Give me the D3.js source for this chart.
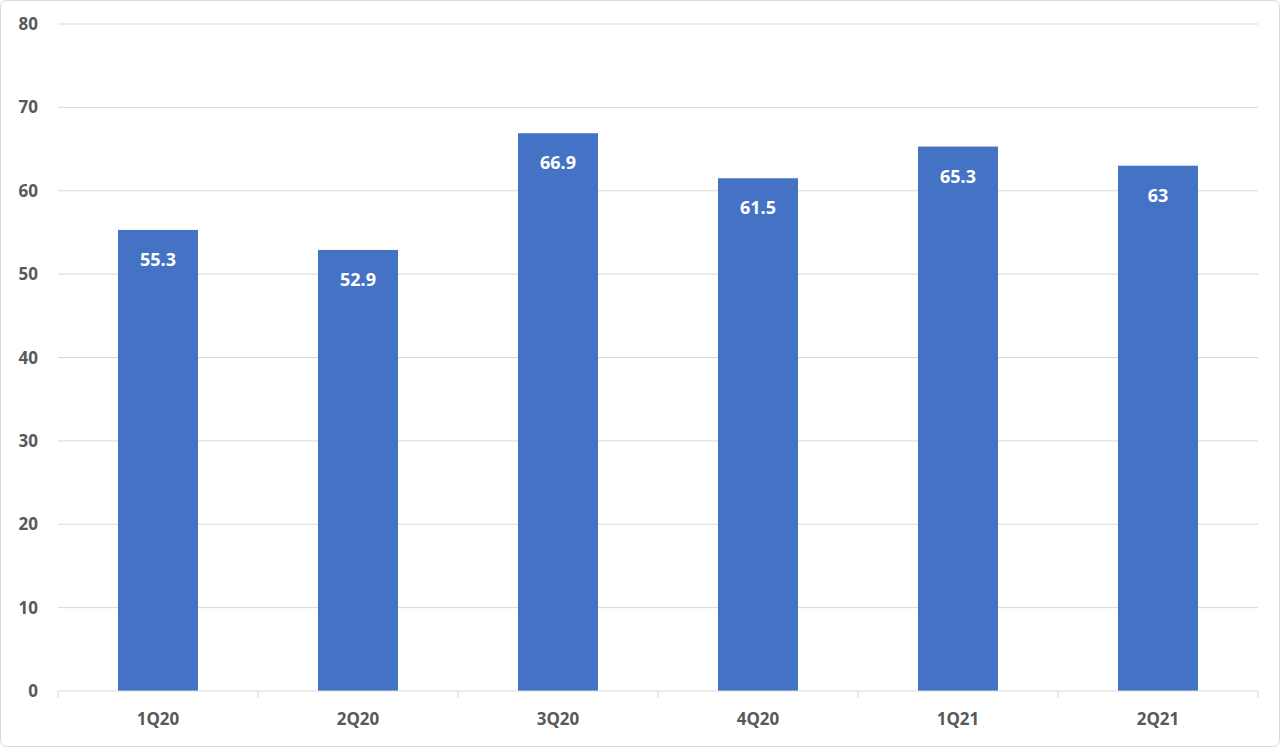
<!DOCTYPE html>
<html><head><meta charset="utf-8">
<script src="https://cdn.jsdelivr.net/npm/d3@7"></script>
<style>body{margin:0;background:#fff}svg{display:block}</style></head>
<body><svg id="c" width="1280" height="747"></svg>
<script>
const categories=["1Q20","2Q20","3Q20","4Q20","1Q21","2Q21"];
const values=[55.3,52.9,66.9,61.5,65.3,63];
const yTicks=[0,10,20,30,40,50,60,70,80];
const svg=d3.select("#c");
svg.append("rect").attr("x",0.5).attr("y",0.5).attr("width",1279).attr("height",746).attr("rx",6).attr("fill","#fff").attr("stroke","#d9d9d9");
const L=58,R=1258,T=24,B=691;
const x=d3.scaleBand().domain(categories).range([L,R]).paddingInner(0.6).paddingOuter(0.3);
const y=d3.scaleLinear().domain([0,80]).range([B,T]);
const font="'Noto Sans', 'DejaVu Sans', sans-serif";
svg.append("g").selectAll("line").data(yTicks.slice(1)).join("line")
 .attr("x1",L).attr("x2",R).attr("y1",d=>y(d)).attr("y2",d=>y(d)).attr("stroke","#d9d9d9");
svg.append("g").selectAll("text").data(yTicks).join("text")
 .attr("x",38).attr("y",d=>y(d)+6).attr("text-anchor","end").attr("fill","#595959")
 .attr("font-family",font).attr("font-weight","bold").attr("font-size",17).text(d=>d);
svg.append("g").selectAll("rect").data(values).join("rect")
 .attr("x",(d,i)=>x(categories[i])).attr("width",x.bandwidth()).attr("y",d=>y(d)).attr("height",d=>B-y(d)).attr("fill","#4472c4");
svg.append("line").attr("x1",L).attr("x2",R).attr("y1",B).attr("y2",B).attr("stroke","#d9d9d9");
const step=(R-L)/categories.length;
svg.append("g").selectAll("line").data(d3.range(categories.length+1)).join("line")
 .attr("x1",i=>L+i*step).attr("x2",i=>L+i*step).attr("y1",B).attr("y2",B+7).attr("stroke","#d9d9d9");
svg.append("g").selectAll("text").data(categories).join("text")
 .attr("x",d=>x(d)+x.bandwidth()/2).attr("y",725).attr("text-anchor","middle").attr("fill","#595959")
 .attr("font-family",font).attr("font-weight","bold").attr("font-size",17).text(d=>d);
svg.append("g").selectAll("text").data(values).join("text")
 .attr("x",(d,i)=>x(categories[i])+x.bandwidth()/2).attr("y",d=>y(d)+36).attr("text-anchor","middle").attr("fill","#fff")
 .attr("font-family",font).attr("font-weight","bold").attr("font-size",18).text(d=>d);
</script></body></html>
